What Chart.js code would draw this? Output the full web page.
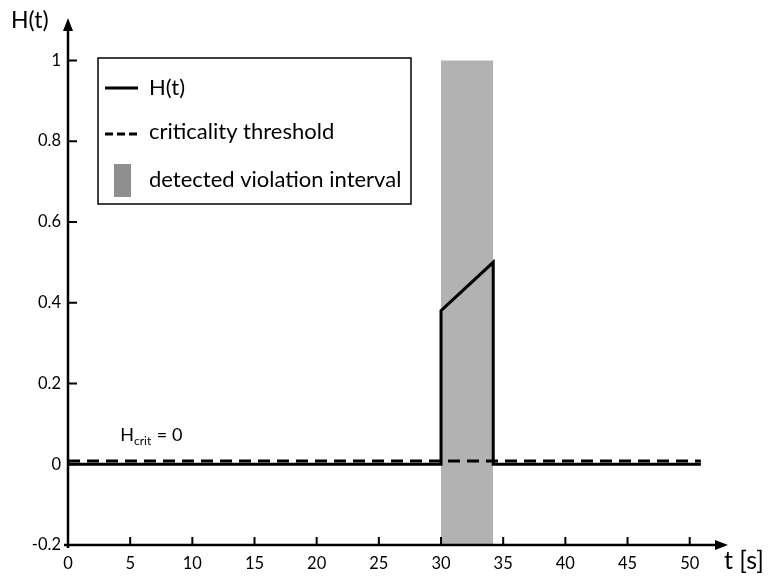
<!DOCTYPE html>
<html>
<head>
<meta charset="utf-8">
<script src="https://cdn.jsdelivr.net/npm/chart.js@4/dist/chart.umd.min.js"></script>
<style>
html,body{margin:0;padding:0;background:#fff;}
#wrap{width:768px;height:580px;}
</style>
</head>
<body>
<div id="wrap"><canvas id="c" width="768" height="580"></canvas></div>
<script>
// ---- data ----
const hTimes = [0, 30, 30, 34.2, 34.2, 50.9];
const hValues = [0, 0, 0.38, 0.5, 0, 0];
const thresholdTimes = [0, 50.9];
const thresholdValues = [0.008, 0.008];
const intervalTimes = [30, 34.2];
const intervalTop = [1, 1];
const xTicks = [0, 5, 10, 15, 20, 25, 30, 35, 40, 45, 50];
const yTicks = [-0.2, 0, 0.2, 0.4, 0.6, 0.8, 1];
const seriesLabels = ['H(t)', 'criticality threshold', 'detected violation interval'];
const yTitle = 'H(t)';
const xTitle = 't [s]';

const FONT = 'Lato, "Open Sans", sans-serif';
Chart.defaults.font.family = FONT;
Chart.defaults.color = '#000';

const pts = (xs, ys) => xs.map((x, i) => ({x: x, y: ys[i]}));

const decor = {
  id: 'decor',
  afterDraw(chart) {
    const ctx = chart.ctx;
    const a = chart.chartArea;
    const xs = chart.scales.x, ys = chart.scales.y;
    const x0 = a.left, yb = a.bottom;
    ctx.save();
    ctx.strokeStyle = '#000';
    ctx.fillStyle = '#000';
    ctx.lineWidth = 2.5;
    // axes
    ctx.beginPath();
    ctx.moveTo(x0, yb + 3); ctx.lineTo(x0, a.top + 8);
    ctx.moveTo(x0 - 4, yb); ctx.lineTo(a.right - 8, yb);
    ctx.stroke();
    // arrowheads
    ctx.beginPath();
    ctx.moveTo(x0, a.top - 2); ctx.lineTo(x0 - 5, a.top + 11); ctx.lineTo(x0 + 5, a.top + 11); ctx.closePath();
    ctx.fill();
    ctx.beginPath();
    ctx.moveTo(a.right + 1, yb); ctx.lineTo(a.right - 12, yb - 5); ctx.lineTo(a.right - 12, yb + 5); ctx.closePath();
    ctx.fill();
    // inward ticks
    ctx.lineWidth = 2;
    ctx.beginPath();
    xs.ticks.forEach(t => {
      if (t.value === 0) return;
      const p = xs.getPixelForValue(t.value);
      ctx.moveTo(p, yb); ctx.lineTo(p, yb - 8);
    });
    ys.ticks.forEach(t => {
      const p = ys.getPixelForValue(t.value);
      ctx.moveTo(x0, p); ctx.lineTo(x0 + 9, p);
    });
    ctx.stroke();
    // axis titles
    ctx.textBaseline = 'middle';
    ctx.textAlign = 'left';
    ctx.font = '23px ' + FONT;
    ctx.fillText(yTitle, 11, 21);
    ctx.font = '25px ' + FONT;
    ctx.fillText(xTitle, 724, 561);
    // H_crit annotation
    const hx = xs.getPixelForValue(4.2), hy = ys.getPixelForValue(0.057);
    ctx.textBaseline = 'alphabetic';
    ctx.font = '18px ' + FONT;
    ctx.fillText('H', hx, hy);
    let w = ctx.measureText('H').width;
    ctx.font = '12px ' + FONT;
    ctx.fillText('crit', hx + w, hy + 4);
    w += ctx.measureText('crit').width;
    ctx.font = '18px ' + FONT;
    ctx.fillText(' = 0', hx + w + 1, hy);
    // legend
    const lx = 98, ly = 58, lw = 313, lh = 146;
    ctx.fillStyle = '#fff';
    ctx.fillRect(lx, ly, lw, lh);
    ctx.lineWidth = 1.5;
    ctx.strokeRect(lx, ly, lw, lh);
    ctx.lineWidth = 3;
    ctx.beginPath(); ctx.moveTo(105, 88); ctx.lineTo(138, 88); ctx.stroke();
    ctx.setLineDash([8, 4]);
    ctx.beginPath(); ctx.moveTo(105, 134); ctx.lineTo(138, 134); ctx.stroke();
    ctx.setLineDash([]);
    ctx.fillStyle = '#8f8f8f';
    ctx.fillRect(114, 164, 17, 33);
    ctx.fillStyle = '#000';
    ctx.font = '22px ' + FONT;
    ctx.textBaseline = 'middle';
    ctx.fillText(seriesLabels[0], 149, 88);
    ctx.fillText(seriesLabels[1], 149, 132);
    ctx.fillText(seriesLabels[2], 149, 180);
    ctx.restore();
  }
};

new Chart(document.getElementById('c'), {
  type: 'line',
  data: {
    datasets: [
      {
        label: seriesLabels[0],
        data: pts(hTimes, hValues),
        borderColor: '#000',
        borderWidth: 3,
        borderJoinStyle: 'miter',
        pointRadius: 0,
        fill: false,
        tension: 0,
        order: 0
      },
      {
        label: seriesLabels[1],
        data: pts(thresholdTimes, thresholdValues),
        borderColor: '#000',
        borderWidth: 3,
        borderDash: [12, 7],
        pointRadius: 0,
        fill: false,
        order: 1
      },
      {
        label: seriesLabels[2],
        data: pts(intervalTimes, intervalTop),
        borderWidth: 0,
        borderColor: 'rgba(0,0,0,0)',
        backgroundColor: '#b2b2b2',
        pointRadius: 0,
        fill: 'start',
        order: 2
      }
    ]
  },
  options: {
    responsive: false,
    animation: false,
    events: [],
    layout: { padding: { top: 20, right: 41, left: 0, bottom: 0 } },
    plugins: { legend: { display: false }, tooltip: { enabled: false } },
    scales: {
      x: {
        type: 'linear',
        min: 0, max: 53,
        grid: { display: false, drawTicks: false },
        border: { display: false },
        afterBuildTicks: s => { s.ticks = xTicks.map(v => ({ value: v })); },
        afterFit: s => { s.height = 35; },
        ticks: { font: { size: 16.5 }, color: '#000', padding: 9, autoSkip: false, maxRotation: 0,
                 callback: v => String(v) }
      },
      y: {
        type: 'linear',
        min: -0.2, max: 1.1,
        grid: { display: false, drawTicks: false },
        border: { display: false },
        afterBuildTicks: s => { s.ticks = yTicks.map(v => ({ value: v })); },
        afterFit: s => { s.width = 68; },
        ticks: { font: { size: 16.5 }, color: '#000', padding: 7,
                 callback: v => String(Math.round(v * 10) / 10) }
      }
    }
  },
  plugins: [decor]
});
</script>
</body>
</html>
